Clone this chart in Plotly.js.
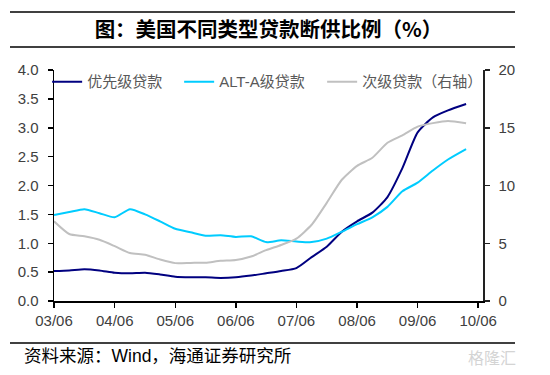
<!DOCTYPE html>
<html>
<head>
<meta charset="utf-8">
<script src="https://cdn.plot.ly/plotly-3.0.1.min.js"></script>
<style>html,body{margin:0;padding:0;background:#fff;}#chart{width:550px;height:375px;}</style>
</head>
<body>
<div id="chart"></div>
<script>
// Quarterly observations (last point partial, Mar 2010)
var dates = ["2003-06-01","2003-09-01","2003-12-01","2004-03-01","2004-06-01","2004-09-01","2004-12-01",
  "2005-03-01","2005-06-01","2005-09-01","2005-12-01","2006-03-01","2006-06-01","2006-09-01","2006-12-01",
  "2007-03-01","2007-06-01","2007-09-01","2007-12-01","2008-03-01","2008-06-01","2008-09-01","2008-12-01",
  "2009-03-01","2009-06-01","2009-09-01","2009-12-01","2010-03-20"];
var prime = [0.52,0.53,0.55,0.53,0.49,0.48,0.49,0.46,0.42,0.41,0.41,0.40,0.41,0.44,0.48,
  0.52,0.57,0.76,0.94,1.20,1.38,1.53,1.80,2.30,2.92,3.18,3.30,3.41];
var altA = [1.49,1.54,1.59,1.52,1.45,1.59,1.50,1.38,1.25,1.19,1.13,1.14,1.11,1.12,1.02,
  1.05,1.03,1.02,1.08,1.20,1.33,1.45,1.63,1.90,2.05,2.26,2.45,2.63];
var subprime = [6.9,5.8,5.6,5.3,4.75,4.15,4.0,3.6,3.28,3.3,3.32,3.48,3.55,3.85,4.4,
  4.85,5.4,6.6,8.5,10.5,11.7,12.4,13.7,14.35,15.1,15.4,15.58,15.38];
var seriesNames = ["优先级贷款","ALT-A级贷款","次级贷款（右轴）"];
var leftTicks = [0,0.5,1,1.5,2,2.5,3,3.5,4];
var leftTickText = ["0.0","0.5","1.0","1.5","2.0","2.5","3.0","3.5","4.0"];
var rightTicks = [0,5,10,15,20];

var fontLat = "Liberation Sans, Arial, sans-serif";
var fontCJK = "Liberation Sans, 'Noto Sans CJK SC', sans-serif";

var traces = [
  {x: dates, y: prime, name: seriesNames[0], type: "scatter", mode: "lines", legendwidth: 87,
   line: {color: "#000080", width: 2, shape: "spline", smoothing: 0.6}, yaxis: "y"},
  {x: dates, y: altA, name: seriesNames[1], type: "scatter", mode: "lines", legendwidth: 98,
   line: {color: "#00CCFF", width: 2, shape: "spline", smoothing: 0.6}, yaxis: "y"},
  {x: dates, y: subprime, name: seriesNames[2], type: "scatter", mode: "lines", legendwidth: 125,
   line: {color: "#C0C0C0", width: 2, shape: "spline", smoothing: 0.6}, yaxis: "y2"}
];

var layout = {
  width: 550, height: 375,
  margin: {l: 54, r: 67, t: 70, b: 74},
  paper_bgcolor: "#ffffff", plot_bgcolor: "#ffffff",
  showlegend: true,
  title: {text: "<b>图：美国不同类型贷款断供比例（%）</b>", x: 0.5, xanchor: "center",
          y: 1 - 30/375, yanchor: "middle", xref: "paper",
          font: {family: "'Noto Sans CJK SC', sans-serif", size: 20.5, color: "#000"}},
  xaxis: {type: "date", range: ["2003-06-01", "2010-06-30"], tick0: "2003-06-01", dtick: "M12",
          tickformat: "%y/%m", showgrid: false, zeroline: false,
          showline: true, linecolor: "#000", linewidth: 1.5,
          ticks: "outside", ticklen: 5, tickcolor: "#000", tickwidth: 1.5,
          tickfont: {family: fontLat, size: 15, color: "#404040"}, fixedrange: true},
  yaxis: {range: [0, 4], tickvals: leftTicks, ticktext: leftTickText, showgrid: false, zeroline: false,
          showline: true, linecolor: "#000", linewidth: 1.5,
          ticks: "outside", ticklen: 5, tickcolor: "#000", tickwidth: 1.5, ticklabelstandoff: 6,
          tickfont: {family: fontLat, size: 15, color: "#404040"}},
  yaxis2: {range: [0, 20], tickvals: rightTicks, overlaying: "y", side: "right", showgrid: false, zeroline: false,
          showline: true, linecolor: "#222", linewidth: 1.5,
          ticks: "outside", ticklen: 5, tickcolor: "#222", tickwidth: 1.5, ticklabelstandoff: 6,
          tickfont: {family: fontLat, size: 15, color: "#404040"}},
  legend: {orientation: "h", x: -0.016, xanchor: "left", y: 1.02, yanchor: "top",
           bgcolor: "rgba(0,0,0,0)", font: {family: fontCJK, size: 15, color: "#595959"},
           traceorder: "normal", itemclick: false, itemdoubleclick: false},
  shapes: [
    {type: "line", xref: "paper", yref: "paper", x0: (10-54)/429, x1: (515-54)/429,
     y0: 1 + (70-12)/231, y1: 1 + (70-12)/231, line: {color: "#000", width: 1.5}},
    {type: "line", xref: "paper", yref: "paper", x0: (10-54)/429, x1: (515-54)/429,
     y0: 1 + (70-47)/231, y1: 1 + (70-47)/231, line: {color: "#000", width: 1.5}},
    {type: "line", xref: "paper", yref: "paper", x0: (10-54)/429, x1: (515-54)/429,
     y0: -(343-301)/231, y1: -(343-301)/231, line: {color: "#000", width: 1.5}}
  ],
  annotations: [
    {text: "资料来源：Wind，海通证券研究所", xref: "paper", yref: "paper",
     x: (22-54)/429, xanchor: "left", y: -(356-301)/231, yanchor: "middle", showarrow: false,
     font: {family: fontCJK, size: 17.5, color: "#000"}},
    {text: "格隆汇", xref: "paper", yref: "paper",
     x: (518-54)/429, xanchor: "right", y: -(357-301)/231, yanchor: "middle", showarrow: false,
     font: {family: "'Noto Sans CJK SC', sans-serif", size: 16, color: "#d4d4d4"}}
  ]
};

Plotly.newPlot("chart", traces, layout, {staticPlot: true, displayModeBar: false});
</script>
</body>
</html>
